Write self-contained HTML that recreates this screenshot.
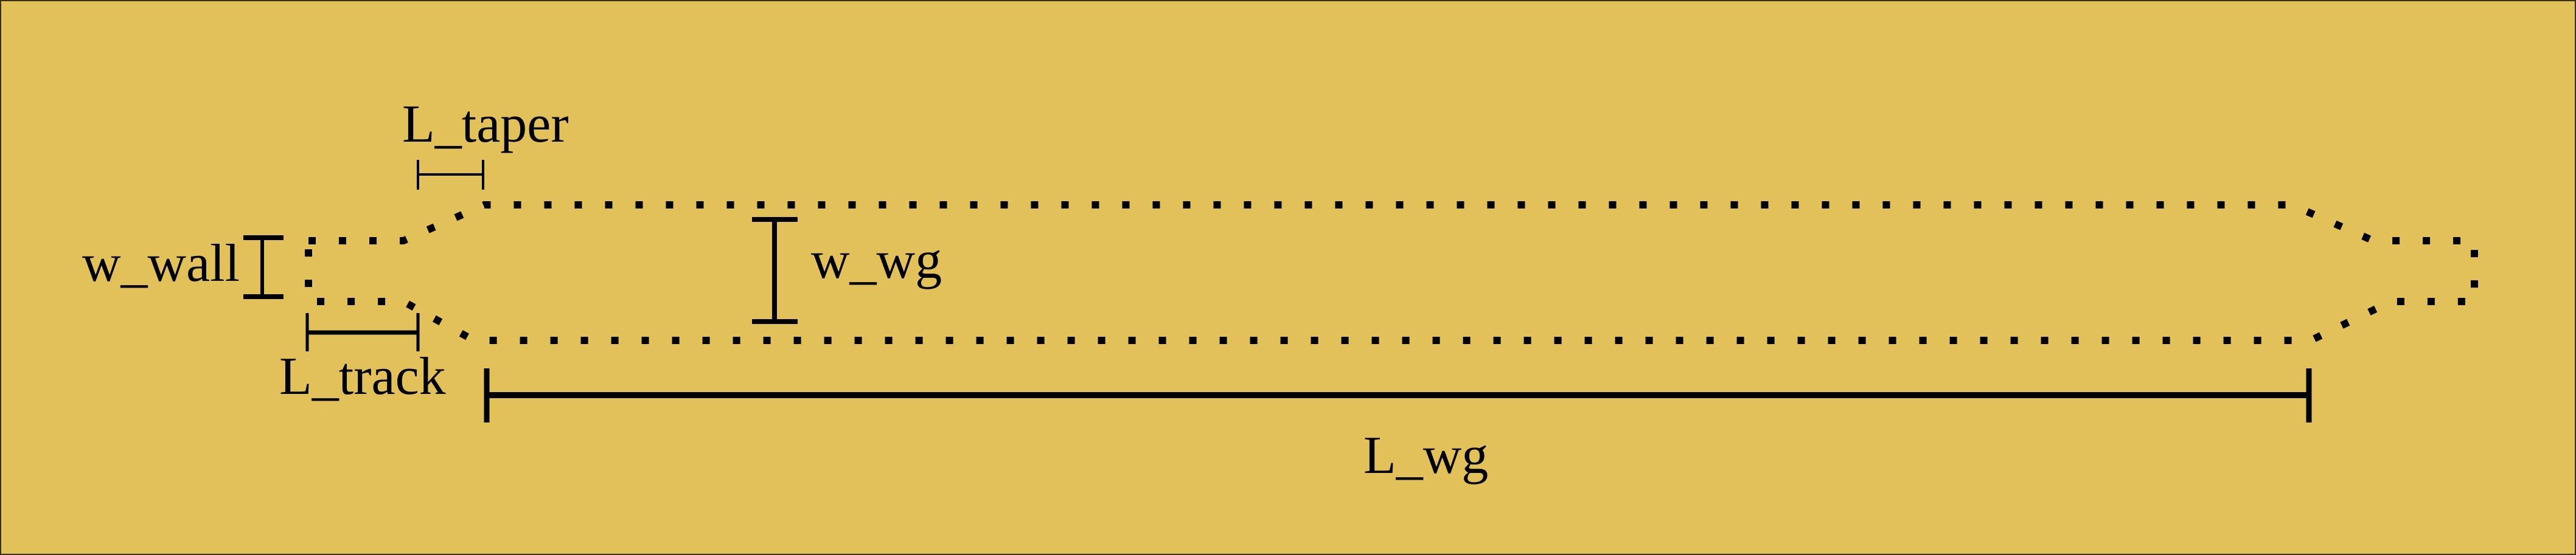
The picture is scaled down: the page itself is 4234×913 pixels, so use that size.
<!DOCTYPE html>
<html><head><meta charset="utf-8"><style>
html,body{margin:0;padding:0;background:#E2C05A;}
svg{display:block;}
text{font-family:"Liberation Serif",serif;font-size:88px;fill:#000;}
</style></head><body>
<svg width="4234" height="913" viewBox="0 0 4234 913">
<rect x="1" y="1" width="4232" height="911" fill="#E2C05A" stroke="#3a3010" stroke-width="2"/>
<path d="M 507 396 L 663 396 L 796 337 L 3767 337 L 3901 396 L 4067 396 L 4067 496 L 3930 496 L 3798 560 L 779 560 L 663 496 L 507 496 Z" fill="none" stroke="#000" stroke-width="12" stroke-dasharray="12 38"/>
<g stroke="#000">
<line x1="431" y1="391" x2="431" y2="488" stroke-width="6"/>
<line x1="400" y1="391" x2="466" y2="391" stroke-width="8"/>
<line x1="400" y1="488" x2="466" y2="488" stroke-width="8"/>
</g>
<text x="135" y="462">w_wall</text>
<g stroke="#000" stroke-width="4">
<line x1="687" y1="263" x2="687" y2="312"/>
<line x1="794" y1="263" x2="794" y2="312"/>
<line x1="687" y1="287" x2="794" y2="287"/>
</g>
<text x="661" y="233">L_taper</text>
<g stroke="#000">
<line x1="505" y1="515" x2="505" y2="578" stroke-width="5"/>
<line x1="687" y1="515" x2="687" y2="578" stroke-width="5"/>
<line x1="505" y1="547" x2="687" y2="547" stroke-width="7"/>
</g>
<text x="459" y="648">L_track</text>
<g stroke="#000">
<line x1="1273" y1="357" x2="1273" y2="533" stroke-width="8"/>
<line x1="1236" y1="361" x2="1311" y2="361" stroke-width="8"/>
<line x1="1236" y1="529" x2="1311" y2="529" stroke-width="8"/>
</g>
<text x="1333" y="457">w_wg</text>
<g stroke="#000">
<line x1="800" y1="606" x2="800" y2="695" stroke-width="9"/>
<line x1="3795" y1="606" x2="3795" y2="695" stroke-width="9"/>
<line x1="800" y1="650" x2="3795" y2="650" stroke-width="10"/>
</g>
<text x="2241" y="778">L_wg</text>
</svg>
</body></html>
